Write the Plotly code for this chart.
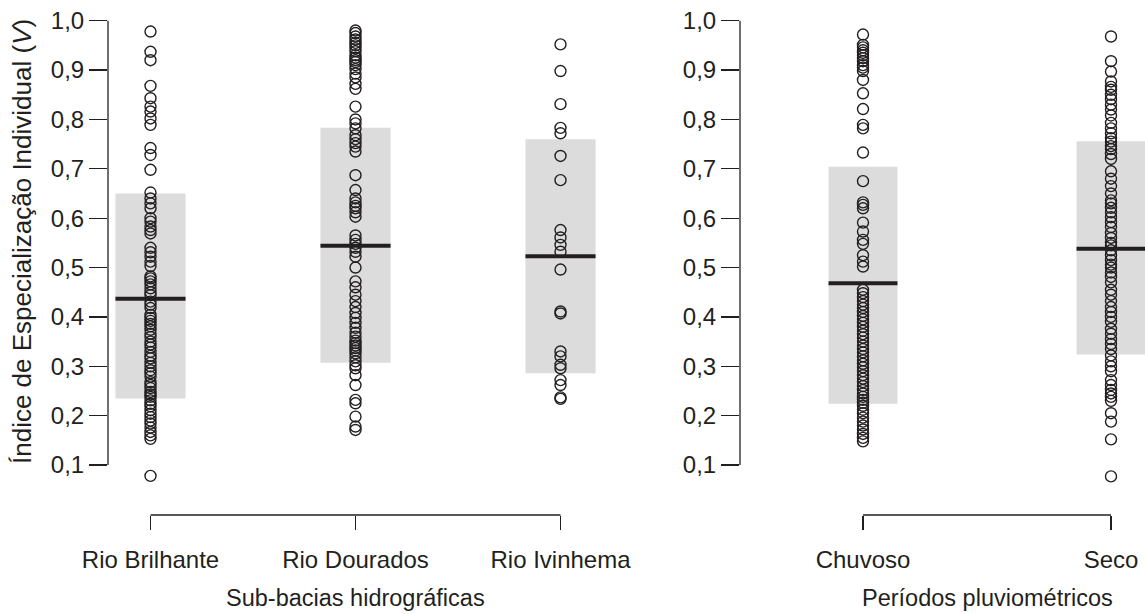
import plotly.graph_objects as go

# ---------------- data ----------------
basin_names = ["Rio Brilhante", "Rio Dourados", "Rio Ivinhema"]
period_names = ["Chuvoso", "Seco"]

rio_brilhante = [0.978, 0.937, 0.920, 0.868, 0.843, 0.826, 0.816, 0.802, 0.789, 0.742,
                 0.728, 0.698, 0.652, 0.640, 0.630, 0.620, 0.600, 0.593, 0.583, 0.576,
                 0.569, 0.540, 0.531, 0.522, 0.512, 0.503, 0.482, 0.478, 0.472, 0.466,
                 0.458, 0.450, 0.444, 0.431, 0.425, 0.418, 0.404, 0.398, 0.392, 0.386,
                 0.381, 0.374, 0.366, 0.359, 0.350, 0.344, 0.338, 0.329, 0.321, 0.316,
                 0.307, 0.300, 0.292, 0.286, 0.279, 0.268, 0.262, 0.256, 0.248, 0.243,
                 0.238, 0.231, 0.224, 0.219, 0.211, 0.204, 0.197, 0.190, 0.184, 0.176,
                 0.167, 0.160, 0.153, 0.078]
rio_dourados = [0.980, 0.975, 0.968, 0.962, 0.955, 0.950, 0.944, 0.938, 0.930, 0.925,
                0.920, 0.916, 0.910, 0.902, 0.893, 0.885, 0.872, 0.862, 0.826, 0.800,
                0.792, 0.782, 0.768, 0.760, 0.752, 0.745, 0.735, 0.687, 0.657, 0.640,
                0.632, 0.625, 0.620, 0.612, 0.603, 0.565, 0.556, 0.548, 0.540, 0.532,
                0.522, 0.500, 0.472, 0.460, 0.445, 0.432, 0.420, 0.408, 0.398, 0.388,
                0.378, 0.368, 0.360, 0.352, 0.347, 0.342, 0.337, 0.332, 0.326, 0.318,
                0.310, 0.302, 0.296, 0.282, 0.262, 0.232, 0.225, 0.198, 0.178, 0.171]
rio_ivinhema = [0.952, 0.898, 0.831, 0.783, 0.772, 0.726, 0.677, 0.576, 0.561, 0.546,
                0.532, 0.496, 0.411, 0.407, 0.330, 0.320, 0.303, 0.296, 0.272, 0.262,
                0.237, 0.234]
chuvoso = [0.972, 0.951, 0.946, 0.940, 0.935, 0.930, 0.924, 0.918, 0.910, 0.905,
           0.898, 0.880, 0.853, 0.821, 0.789, 0.782, 0.733, 0.675, 0.632, 0.627,
           0.620, 0.591, 0.573, 0.556, 0.548, 0.525, 0.512, 0.502, 0.455, 0.448,
           0.440, 0.432, 0.425, 0.418, 0.410, 0.402, 0.395, 0.388, 0.380, 0.372,
           0.365, 0.358, 0.350, 0.342, 0.335, 0.328, 0.320, 0.312, 0.305, 0.298,
           0.290, 0.282, 0.275, 0.268, 0.260, 0.252, 0.245, 0.238, 0.232, 0.226,
           0.220, 0.212, 0.205, 0.196, 0.188, 0.180, 0.172, 0.163, 0.155, 0.148]
seco = [0.968, 0.918, 0.897, 0.877, 0.866, 0.860, 0.850, 0.841, 0.830, 0.820,
        0.808, 0.793, 0.782, 0.772, 0.762, 0.755, 0.746, 0.740, 0.730, 0.720,
        0.695, 0.680, 0.665, 0.650, 0.636, 0.630, 0.621, 0.612, 0.602, 0.592,
        0.582, 0.570, 0.560, 0.550, 0.545, 0.535, 0.525, 0.515, 0.506, 0.500,
        0.490, 0.481, 0.470, 0.455, 0.445, 0.432, 0.420, 0.410, 0.400, 0.390,
        0.376, 0.366, 0.355, 0.345, 0.335, 0.322, 0.310, 0.300, 0.290, 0.272,
        0.262, 0.252, 0.245, 0.238, 0.230, 0.205, 0.188, 0.152, 0.077]

basin_mean = [0.437, 0.544, 0.523]
basin_low = [0.235, 0.307, 0.286]
basin_high = [0.650, 0.783, 0.760]
period_mean = [0.468, 0.538]
period_low = [0.224, 0.324]
period_high = [0.704, 0.756]

y_ticks = [0.1, 0.2, 0.3, 0.4, 0.5, 0.6, 0.7, 0.8, 0.9, 1.0]
y_tick_text = ["0,1", "0,2", "0,3", "0,4", "0,5", "0,6", "0,7", "0,8", "0,9", "1,0"]

# ---------------- style ----------------
W, H = 1145, 614
INK = "#231f20"
BOX = "#dcdcdc"
FONT = "Liberation Sans, Arial, sans-serif"
FS = 24
left_half = 0.171
right_half = 0.139

# pixel geometry
PX_PER_UNIT = 493.7          # vertical pixels per index unit
Y_TOP_PX = 20.7              # pixel of value 1.0
DOM_TOP_PX, DOM_BOT_PX = 8, 492
y_lo = 1.0 - (DOM_BOT_PX - Y_TOP_PX) / PX_PER_UNIT
y_hi = 1.0 + (Y_TOP_PX - DOM_TOP_PX) / PX_PER_UNIT
y_dom = [1 - DOM_BOT_PX / H, 1 - DOM_TOP_PX / H]
x_pos = 1 - 515 / H

fig = go.Figure()

basin_groups = [rio_brilhante, rio_dourados, rio_ivinhema]
period_groups = [chuvoso, seco]

fig.add_trace(go.Bar(x=list(range(len(basin_names))),
                     y=[h - l for h, l in zip(basin_high, basin_low)],
                     base=basin_low, width=2 * left_half, marker_color=BOX,
                     marker_line_width=0, xaxis="x", yaxis="y", showlegend=False))
fig.add_trace(go.Bar(x=list(range(len(period_names))),
                     y=[h - l for h, l in zip(period_high, period_low)],
                     base=period_low, width=2 * right_half, marker_color=BOX,
                     marker_line_width=0, xaxis="x2", yaxis="y2", showlegend=False))

marker = dict(symbol="circle-open", size=11, color=INK, line=dict(width=1.4, color=INK))
for i, vals in enumerate(basin_groups):
    fig.add_trace(go.Scatter(x=[i] * len(vals), y=vals, mode="markers", marker=marker,
                             cliponaxis=False, xaxis="x", yaxis="y", showlegend=False))
for i, vals in enumerate(period_groups):
    fig.add_trace(go.Scatter(x=[i] * len(vals), y=vals, mode="markers", marker=marker,
                             cliponaxis=False, xaxis="x2", yaxis="y2", showlegend=False))

mx, my = [], []
for i, m in enumerate(basin_mean):
    mx += [i - left_half, i + left_half, None]
    my += [m, m, None]
fig.add_trace(go.Scatter(x=mx, y=my, mode="lines", line=dict(color=INK, width=4),
                         xaxis="x", yaxis="y", showlegend=False))
mx, my = [], []
for i, m in enumerate(period_mean):
    mx += [i - right_half, i + right_half, None]
    my += [m, m, None]
fig.add_trace(go.Scatter(x=mx, y=my, mode="lines", line=dict(color=INK, width=4),
                         xaxis="x2", yaxis="y2", showlegend=False))

yax = dict(range=[y_lo, y_hi], domain=y_dom, tickvals=y_ticks, ticktext=y_tick_text,
           showline=False, ticks="outside", ticklen=18,
           tickwidth=1.3, tickcolor=INK, showgrid=False, zeroline=False, automargin=False,
           tickfont=dict(family=FONT, size=FS, color=INK))
xax = dict(anchor="free", position=x_pos, showline=False, showgrid=False, zeroline=False,
           ticks="outside", ticklen=14, tickwidth=1.3, tickcolor=INK, automargin=False,
           ticklabelstandoff=9,
           tickfont=dict(family=FONT, size=FS, color=INK))

XL0, XL1 = 108, 620
XR0, XR1 = 740, 1145
fig.update_layout(
    width=W, height=H, margin=dict(l=0, r=0, t=0, b=0, autoexpand=False),
    paper_bgcolor="white", plot_bgcolor="white", barmode="overlay",
    hovermode=False,
    xaxis=dict(xax, domain=[XL0 / W, XL1 / W],
               range=[(XL0 - 150.5) / 205, (XL1 - 150.5) / 205],
               tickvals=list(range(len(basin_names))), ticktext=basin_names),
    xaxis2=dict(xax, domain=[XR0 / W, XR1 / W],
                range=[(XR0 - 863) / 248, (XR1 - 863) / 248],
                tickvals=list(range(len(period_names))), ticktext=period_names),
    yaxis=dict(yax, anchor="x"),
    yaxis2=dict(yax, anchor="x2"),
    shapes=[
        dict(type="line", xref="x", yref="paper", x0=0, x1=len(basin_names) - 1,
             y0=x_pos, y1=x_pos, line=dict(color=INK, width=1.3)),
        dict(type="line", xref="x2", yref="paper", x0=0, x1=len(period_names) - 1,
             y0=x_pos, y1=x_pos, line=dict(color=INK, width=1.3)),
        dict(type="line", xref="paper", yref="y", x0=XL0 / W, x1=XL0 / W,
             y0=y_ticks[0], y1=y_ticks[-1], line=dict(color=INK, width=1.3)),
        dict(type="line", xref="paper", yref="y2", x0=XR0 / W, x1=XR0 / W,
             y0=y_ticks[0], y1=y_ticks[-1], line=dict(color=INK, width=1.3)),
    ],
    annotations=[
        dict(text="Índice de Especialização Individual (<i>V</i>)", xref="paper", yref="paper",
             x=22 / W, y=1 - 242 / H, textangle=-90, showarrow=False,
             xanchor="center", yanchor="middle", font=dict(family=FONT, size=26, color=INK)),
        dict(text="Sub-bacias hidrográficas", xref="x", yref="paper", x=1, y=1 - 598 / H,
             showarrow=False, xanchor="center", yanchor="middle",
             font=dict(family=FONT, size=23.5, color=INK)),
        dict(text="Períodos pluviométricos", xref="x2", yref="paper", x=0.5, y=1 - 598 / H,
             showarrow=False, xanchor="center", yanchor="middle",
             font=dict(family=FONT, size=23.5, color=INK)),
    ],
)

fig.write_html("out.html", config={"displayModeBar": False, "staticPlot": True},
               post_script="document.body.style.margin='0';document.body.style.overflow='hidden';")
